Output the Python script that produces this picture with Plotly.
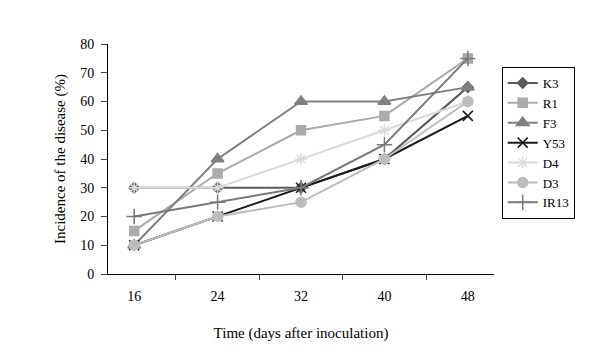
import plotly.graph_objects as go

days = ["16", "24", "32", "40", "48"]
series_names = ["K3", "R1", "F3", "Y53", "D4", "D3", "IR13"]
K3 = [30, 30, 30, 40, 65]
R1 = [15, 35, 50, 55, 75]
F3 = [10, 40, 60, 60, 65]
Y53 = [10, 20, 30, 40, 55]
D4 = [30, 30, 40, 50, 60]
D3 = [10, 20, 25, 40, 60]
IR13 = [20, 25, 30, 45, 75]
values = [K3, R1, F3, Y53, D4, D3, IR13]

colors = ["#5a5a5a", "#ababab", "#808080", "#1a1a1a", "#dadada", "#bdbdbd", "#7a7a7a"]
symbols = ["diamond", "square", "triangle-up", "x-thin-open", "asterisk-open", "circle", "cross-thin-open"]
sizes = [8, 9, 11, 10, 10, 10, 11]

fig = go.Figure()
for name, vals, c, s, sz in zip(series_names, values, colors, symbols, sizes):
    fig.add_trace(go.Scatter(
        x=days, y=vals, name=name, mode="lines+markers",
        line=dict(color=c, width=2),
        marker=dict(symbol=s, size=sz, color=c, line=dict(color=c, width=1.5)),
    ))

font_family = "Liberation Serif, Times New Roman, serif"
fig.update_layout(
    width=581, height=348,
    margin=dict(l=100, r=95, t=36, b=82),
    paper_bgcolor="white", plot_bgcolor="white",
    font=dict(family=font_family, size=14, color="black"),
    showlegend=True,
    legend=dict(
        x=1.02, y=0.9, xanchor="left", yanchor="top",
        bordercolor="black", borderwidth=1,
        font=dict(family=font_family, size=13, color="black"),
        itemwidth=30, tracegroupgap=0,
    ),
    xaxis=dict(
        type="category", tickson="boundaries", ticks="outside", ticklen=5,
        showline=True, linecolor="black", linewidth=1, showgrid=False,
        ticklabelstandoff=9,
        title=dict(text="Time (days after inoculation)", standoff=24,
                   font=dict(family=font_family, size=15)),
        tickfont=dict(family=font_family, size=14),
    ),
    yaxis=dict(
        range=[0, 80], dtick=10, ticks="outside", ticklen=6,
        showline=True, linecolor="black", linewidth=1, showgrid=False,
        zeroline=False, ticklabelstandoff=4,
        title=dict(text="Incidence of the disease (%)", standoff=10,
                   font=dict(family=font_family, size=15)),
        tickfont=dict(family=font_family, size=14),
    ),
)

fig.write_html("out.html")
